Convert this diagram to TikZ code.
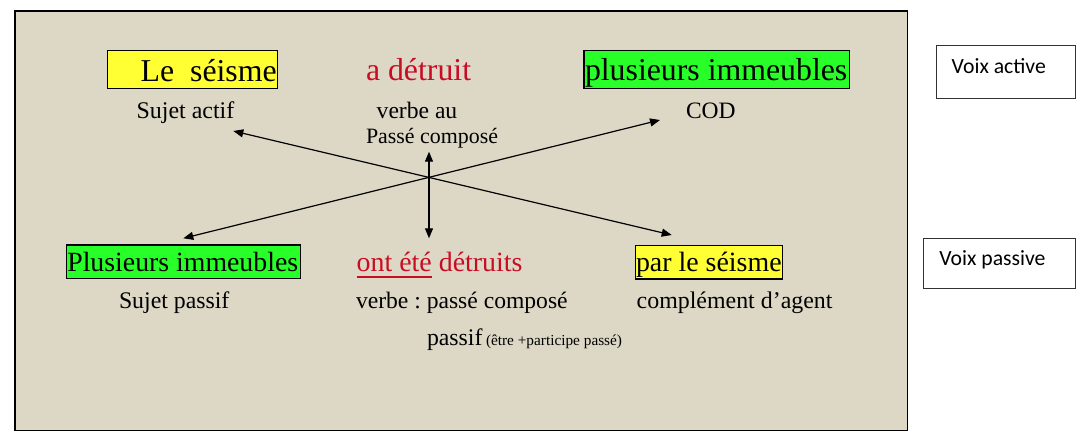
\documentclass[tikz,border=0pt]{standalone}
\usepackage{fontspec}
\setmainfont{Liberation Serif}
\newfontfamily\calibrifont{Carlito}
\usetikzlibrary{arrows.meta}
\frenchspacing
\definecolor{bgbeige}{RGB}{221,216,197}
\definecolor{hlyellow}{RGB}{255,255,51}
\definecolor{hlgreen}{RGB}{40,255,40}
\definecolor{verbred}{RGB}{200,12,36}
\definecolor{boxgray}{RGB}{50,50,50}
\newcommand{\fsz}[1]{\fontsize{#1}{#1}\selectfont}
\begin{document}
\begin{tikzpicture}[x=1pt,y=-1pt,
  txt/.style={anchor=base west,inner sep=0pt,outer sep=0pt},
  hlbox/.style={draw=black,line width=1.1pt,inner sep=0pt,outer sep=0pt,anchor=north west},
  voixbox/.style={draw=boxgray,line width=1.3pt,fill=white,inner sep=0pt,outer sep=0pt,anchor=north west},
  dblarrow/.style={line width=1.2pt,{Triangle[length=10pt,width=8pt]}-{Triangle[length=10pt,width=8pt]}}]
\useasboundingbox (0,0) rectangle (1084,447);
\fill[white] (0,0) rectangle (1084,447);
% main panel
\node[draw=black,line width=1.3pt,fill=bgbeige,inner sep=0pt,anchor=north west,minimum width=892.4pt,minimum height=419.7pt] (panel) at (14.3,10.3) {};
% top row
\node[hlbox,fill=hlyellow,text height=30.7pt,text depth=7.7pt] (seisme) at (107.3,50.3)
  {\makebox[170.4pt][l]{\hspace{33.4pt}\fsz{31.8}Le\ \ séisme}};
\node[txt,text=verbred] (adetruit) at (366,80.5) {\fsz{31.8}a détruit};
\node[hlbox,fill=hlgreen,text height=30pt,text depth=8pt] (immeubles) at (584,50.7)
  {\makebox[265.7pt][l]{\hspace{1pt}\fsz{31.8}plusieurs immeubles}};
\node[txt] (sujetactif) at (136.7,118.3) {\fsz{23.9}Sujet actif};
\node[txt] (verbeau) at (376.7,118.3) {\fsz{23.6}verbe au};
\node[txt] (passecompose) at (366,143.3) {\fsz{21.9}Passé composé};
\node[txt] (cod) at (686,118.3) {\fsz{23.5}COD};
% bottom row
\node[hlbox,fill=hlgreen,text height=26.7pt,text depth=7pt] (plusieurs) at (66.7,245)
  {\makebox[234pt][l]{\hspace{0.6pt}\fsz{27.8}Plusieurs immeubles}};
\node[txt,text=verbred] (ontete) at (356.7,271.5) {\fsz{27.9}ont été};
\node[txt,text=verbred,anchor=base west] (detruits) at (ontete.base east) {\fsz{27.9}\ détruits};
\draw[verbred,line width=1.2pt] (ontete.south west |- 0,277) coordinate (ul1) -- (ontete.south east |- 0,277) coordinate (ul2);
\node[hlbox,fill=hlyellow,text height=26pt,text depth=7.3pt] (parle) at (635.7,245.7)
  {\makebox[147pt][l]{\hspace{0.3pt}\fsz{27.9}par le séisme}};
\node[txt] (sujetpassif) at (119,308.3) {\fsz{23.8}Sujet passif};
\node[txt] (verbepc) at (356,308.3) {\fsz{23.6}verbe : passé composé};
\node[txt] (passif) at (427,345) {\fsz{23.8}passif};
\node[txt] (etre) at (486,345) {\fsz{15.3}(être +participe passé)};
\node[txt] (agent) at (636.7,308.3) {\fsz{23.9}complément d’agent};
% voix boxes
\node[voixbox,text height=28pt,text depth=25pt] (vactive) at (936.7,45.3)
  {\makebox[139pt][l]{\hspace{15pt}\calibrifont\fsz{21.7}Voix active}};
\node[voixbox,text height=26.7pt,text depth=23.3pt] (vpassive) at (923.3,238.3)
  {\makebox[152.4pt][l]{\hspace{16pt}\calibrifont\fsz{21.7}Voix passive}};
% arrow end points
\coordinate (endSA) at (233.3,131);
\coordinate (endPS) at (671.7,235);
\coordinate (endCOD) at (660,120);
\coordinate (endPI) at (183.3,238.3);
\coordinate (endPC) at (429,151.7);
\coordinate (endOE) at (429,238.3);
\draw[dblarrow] (endSA) -- (endPS);
\draw[dblarrow] (endPI) -- (endCOD);
\draw[dblarrow] (endPC) -- (endOE);
\end{tikzpicture}
\end{document}
